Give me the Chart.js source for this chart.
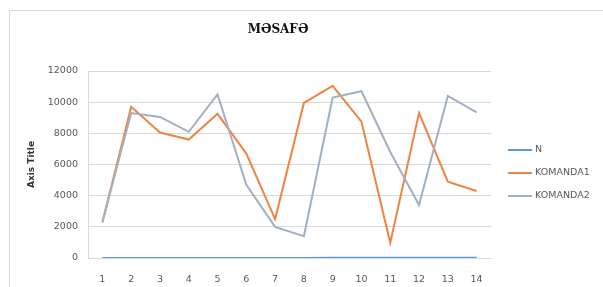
<!DOCTYPE html>
<html>
<head>
<meta charset="utf-8">
<script src="https://cdn.jsdelivr.net/npm/chart.js@4"></script>
<style>
  html, body { margin:0; padding:0; background:#fff; }
  #wrap { width:603px; height:287px; }
</style>
</head>
<body>
<div id="wrap"><canvas id="c" width="603" height="287"></canvas></div>
<script>
// ─── Data ───
const labels = ['1','2','3','4','5','6','7','8','9','10','11','12','13','14'];
const seriesN = [1,2,3,4,5,6,7,8,9,10,11,12,13,14];
const komanda1 = [2300, 9700, 8050, 7600, 9250, 6700, 2500, 9950, 11050, 8750, 980, 9300, 4900, 4300];
const komanda2 = [2300, 9300, 9050, 8100, 10500, 4700, 2000, 1400, 10300, 10700, 6800, 3400, 10400, 9350];
const yTicks = [0, 2000, 4000, 6000, 8000, 10000, 12000];
const chartTitle = 'MƏSAFƏ';

const FONT = "'DejaVu Sans', sans-serif";
const GRID = '#d9d9d9';
const TXT = '#595959';

// ─── Plugins ───
const frame = {
    id: 'frame',
    beforeDraw(chart) {
        const c = chart.ctx;
        c.save();
        c.fillStyle = '#fff';
        c.fillRect(0, 0, chart.width, chart.height);
        c.strokeStyle = GRID;
        c.lineWidth = 1;
        c.strokeRect(9.5, 10.5, 700, 400);
        // title, centred like the original (not over the plot)
        c.fillStyle = '#111';
        c.font = "bold 12px 'DejaVu Serif', serif";
        c.textAlign = 'center';
        c.textBaseline = 'middle';
        c.fillText(chartTitle, 278, 30);
        c.restore();
    }
};

const sideLegend = {
    id: 'sideLegend',
    afterDraw(chart) {
        const c = chart.ctx;
        const x0 = chart.chartArea.right + 17;
        let y = chart.chartArea.top + 79;
        c.save();
        c.font = '9.5px ' + FONT;
        c.textBaseline = 'middle';
        chart.data.datasets.forEach(ds => {
            c.strokeStyle = ds.borderColor;
            c.lineWidth = 2;
            c.beginPath();
            c.moveTo(x0, y);
            c.lineTo(x0 + 24, y);
            c.stroke();
            c.fillStyle = TXT;
            c.fillText(ds.label, x0 + 27, y);
            y += 23;
        });
        c.restore();
    }
};

function line(label, data, color, order) {
    return { label, data, borderColor: color, backgroundColor: color, borderWidth: 2,
             pointRadius: 0, tension: 0, order };
}

new Chart(document.getElementById('c'), {
    type: 'line',
    data: {
        labels,
        datasets: [
            line('N', seriesN, '#5B9BD5', 3),
            line('KOMANDA1', komanda1, '#EE8545', 2),
            line('KOMANDA2', komanda2, '#A2B0C2', 1)
        ]
    },
    options: {
        responsive: false,
        animation: false,
        layout: { padding: { left: 0, right: 112, top: 71, bottom: 0 } },
        plugins: {
            legend: { display: false },
            tooltip: { enabled: false },
            title: { display: false }
        },
        scales: {
            x: {
                offset: true,
                grid: { display: false },
                border: { display: true, color: GRID },
                ticks: { color: TXT, font: { family: FONT, size: 9.5 }, padding: 8, maxRotation: 0 },
                afterFit: s => { s.height = 29; }
            },
            y: {
                min: 0, max: 12000,
                afterBuildTicks: s => { s.ticks = yTicks.map(v => ({ value: v })); },
                grid: { color: GRID, drawTicks: false },
                border: { display: true, color: GRID },
                ticks: { color: TXT, font: { family: FONT, size: 9.5 }, padding: 10,
                         callback: v => String(v) },
                title: { display: true, text: 'Axis Title', color: '#333',
                         font: { family: FONT, size: 9, weight: 'bold' }, padding: { top: 26, bottom: 0 } },
                afterFit: s => { s.width = 88; }
            }
        }
    },
    plugins: [frame, sideLegend]
});
</script>
</body>
</html>
